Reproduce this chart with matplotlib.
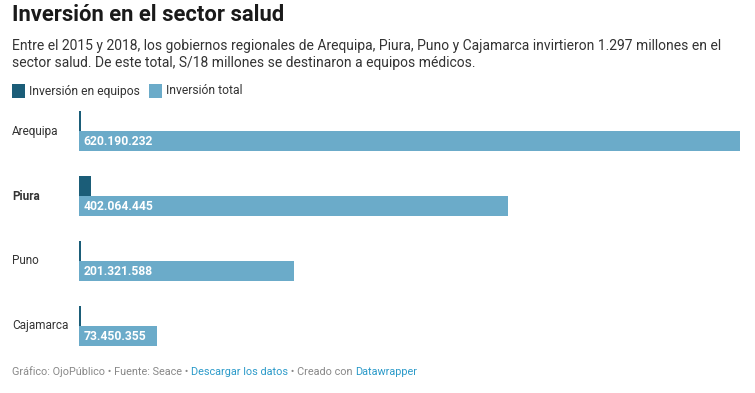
import matplotlib
matplotlib.use("Agg")
import matplotlib.pyplot as plt
from matplotlib.patches import Rectangle

# ── data ──
regions = ["Arequipa", "Piura", "Puno", "Cajamarca"]
total_inv = [620190232, 402064445, 201321588, 73450355]
equip_inv = [2300000, 11300000, 2200000, 2000000]
value_labels = ["620.190.232", "402.064.445", "201.321.588", "73.450.355"]
bold_region = "Piura"

DARK = "#1b5d78"
LIGHT = "#6babc9"
TEXT = "#333333"
GREY = "#888888"
LINK = "#2b9ac9"

plt.rcParams["font.family"] = ["Roboto", "DejaVu Sans"]

W, H = 755, 393
fig = plt.figure(figsize=(W / 100, H / 100), dpi=100)
fig.patch.set_facecolor("white")


def px(x, y):
    return x / W, 1 - y / H


# title + description
fig.text(*px(12, 15), "Inversión en el sector salud", fontsize=15.8,
         fontweight="bold", color="#1a1a1a", va="center")
fig.text(*px(12, 46), "Entre el 2015 y 2018, los gobiernos regionales de Arequipa, Piura, "
         "Puno y Cajamarca invirtieron 1.297 millones en el", fontsize=10,
         color=TEXT, va="center")
fig.text(*px(12, 63), "sector salud. De este total, S/18 millones se destinaron a equipos médicos.",
         fontsize=10, color=TEXT, va="center")

# legend
for x0, col, lab in [(12, DARK, "Inversión en equipos"), (149, LIGHT, "Inversión total")]:
    fig.patches.append(Rectangle(px(x0, 98), 13 / W, 14 / H, transform=fig.transFigure,
                                 facecolor=col, edgecolor="none"))
    fig.text(*px(x0 + 17, 91), lab, fontsize=8.7, color=TEXT, va="center")

# bars
ax = fig.add_axes([79 / W, 47 / H, 661 / W, 235 / H])
step, bh = 65, 20
for i, reg in enumerate(regions):
    y0 = i * step
    ax.barh(y0 + bh / 2, equip_inv[i], height=bh, color=DARK, edgecolor="none")
    ax.barh(y0 + 1.5 * bh, total_inv[i], height=bh, color=LIGHT, edgecolor="none")
    ax.text(total_inv[0] * 0.007, y0 + 1.5 * bh + 0.5, value_labels[i], color="white",
            fontsize=8.7, fontweight="bold", va="center", ha="left")
    ax.text(-67 / 661 * total_inv[0], y0 + bh, reg, fontsize=8.5, color=TEXT,
            fontweight="bold" if reg == bold_region else "normal",
            va="center", ha="left", clip_on=False)
ax.set_xlim(0, total_inv[0])
ax.set_ylim(235, 0)
ax.axis("off")

# footer with coloured pieces
renderer = fig.canvas.get_renderer()
x = 12
for s, col in [("Gráfico: OjoPúblico • Fuente: Seace • ", GREY), ("Descargar los datos", LINK),
               (" • Creado con ", GREY), ("Datawrapper", LINK)]:
    t = fig.text(*px(x, 372), s, fontsize=7.85, color=col, va="center")
    x += t.get_window_extent(renderer).width

fig.savefig("out.png", dpi=100)
